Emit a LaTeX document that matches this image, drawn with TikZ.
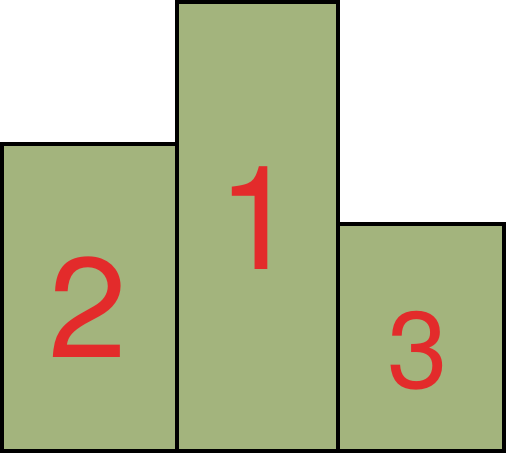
\documentclass[tikz,border=0pt]{standalone}
\usepackage{fontspec}
\setmainfont{TeX Gyre Heros}
\definecolor{podium}{RGB}{163,180,125}
\definecolor{numred}{RGB}{227,43,43}
\tikzset{
  block/.style={draw=black, fill=podium, line width=3.5pt},
  place/.style={text=numred, inner sep=0pt, anchor=center}
}
\begin{document}
\begin{tikzpicture}[x=1pt,y=-1pt]
\useasboundingbox (0,0) rectangle (506,454);
\draw[block] (2,144) rectangle (177,451);
\draw[block] (177,2) rectangle (338,451);
\draw[block] (338,224) rectangle (504,451);
\node[place, font=\fontsize{145}{145}\selectfont] (first) at (258,218) {1};
\node[place, font=\fontsize{142}{142}\selectfont] (second) at (88,307) {2};
\node[place, font=\fontsize{109}{109}\selectfont] (third) at (418,351) {3};
\end{tikzpicture}
\end{document}
